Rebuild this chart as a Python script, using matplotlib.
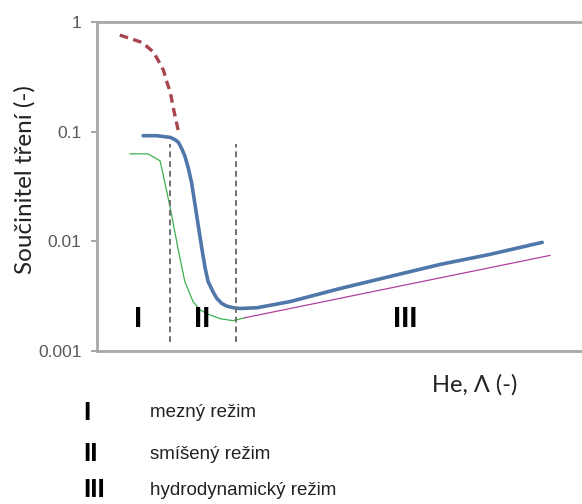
import matplotlib
matplotlib.use("Agg")
import matplotlib.pyplot as plt

# hodnoty (x v libovolných jednotkách 0-100)
red_x = [4.7, 6.8, 8.9, 10.2, 11.6, 12.6, 13.7, 14.4, 15.1, 15.7, 16.3, 16.8]
red_y = [0.76, 0.708, 0.66, 0.603, 0.534, 0.448, 0.363, 0.283, 0.23, 0.167,
         0.126, 0.10]

blue_x = [9.5, 12.3, 15.1, 16.1, 16.8, 17.5, 18.1, 18.8, 19.5, 20.2, 20.9,
          21.6, 22.3, 22.9, 23.9, 24.7, 25.7, 26.7, 28.1, 29.5, 33.0,
          39.8, 50.1, 60.4, 70.7, 81.0, 91.8]
blue_y = [0.0919, 0.0919, 0.0887, 0.0845, 0.0798, 0.0694, 0.0602, 0.047,
          0.0343, 0.0217, 0.0137, 0.00868, 0.00569, 0.0043, 0.00348, 0.00302,
          0.00272, 0.00257, 0.00248, 0.00244, 0.00248, 0.00282, 0.00371,
          0.00478, 0.00615, 0.0076, 0.00979]

green_x = [6.8, 10.5, 13.0, 13.6, 15.1, 16.7, 18.1, 19.8, 21.2, 22.7, 25.4,
           28.0, 30.5]
green_y = [0.0628, 0.0628, 0.0542, 0.0412, 0.0201, 0.00862, 0.0043, 0.00282,
           0.00238, 0.00218, 0.00197, 0.00189, 0.00201]

magenta_x = [30.5, 93.4]
magenta_y = [0.00201, 0.00744]

boundaries = [15.1, 28.7]
boundary_range = [0.0012, 0.078]

regimes = ["I", "II", "III"]
regime_x = [8.5, 21.6, 63.5]
regime_names = ["mezný režim", "smíšený režim", "hydrodynamický režim"]

yticks = [0.001, 0.01, 0.1, 1]
ytick_labels = ["0.001", "0.01", "0.1", "1"]

fig = plt.figure(figsize=(5.82, 5.04), dpi=100)
ax = fig.add_axes([0.1667, 0.3036, 0.8333, 0.6527])

ax.plot(red_x, red_y, color="#A8454E", lw=2.4, ls=(0, (2.6, 1.6)))
ax.plot(blue_x, blue_y, color="#4F77AA", lw=2.6, solid_capstyle="round")
ax.plot(green_x, green_y, color="#3DAF50", lw=0.9)
ax.plot(magenta_x, magenta_y, color="#B0409E", lw=0.9)
for bx in boundaries:
    ax.plot([bx, bx], boundary_range, color="#707070", lw=1.4, ls=(0, (3, 2)))

roman = dict(fontsize=21, fontweight="bold", ha="center", va="center",
             family=["Liberation Sans Narrow", "Liberation Sans"])
for lab, rx in zip(regimes, regime_x):
    ax.text(rx, 0.00197, lab, **roman)

ax.set_yscale("log")
ax.set_ylim(0.001, 1)
ax.set_xlim(0, 100)
ax.set_yticks(yticks)
ax.set_yticklabels(ytick_labels)
ax.minorticks_off()
ax.set_xticks([])
ax.tick_params(axis="y", length=4.5, width=1.3, color="#A0A0A0",
               labelsize=12.5, labelcolor="#595959", pad=6.5)
for lbl in ax.get_yticklabels():
    lbl.set_family("Liberation Sans")
ax.spines["right"].set_visible(False)
for s in ["left", "bottom", "top"]:
    ax.spines[s].set_color("#A8A8A8")
    ax.spines[s].set_linewidth(2)

fig.text(0.043, 0.643, "Součinitel tření (-)", rotation=90, ha="center",
         va="center", fontsize=17.5, family="Lato", color="#222222")
fig.text(0.816, 0.236, "He, Λ (-)", ha="center", va="center", fontsize=17,
         family="Lato", color="#222222")

leg_y = [0.181, 0.099, 0.027]
for lab, name, ly in zip(regimes, regime_names, leg_y):
    fig.text(0.143, ly, lab, ha="left", va="center", fontsize=19,
             fontweight="bold", family=["Liberation Sans Narrow", "Liberation Sans"])
    fig.text(0.258, ly, name, ha="left", va="center", fontsize=13.5,
             family="Liberation Sans", color="#222222")

fig.savefig("out.png", dpi=100)
